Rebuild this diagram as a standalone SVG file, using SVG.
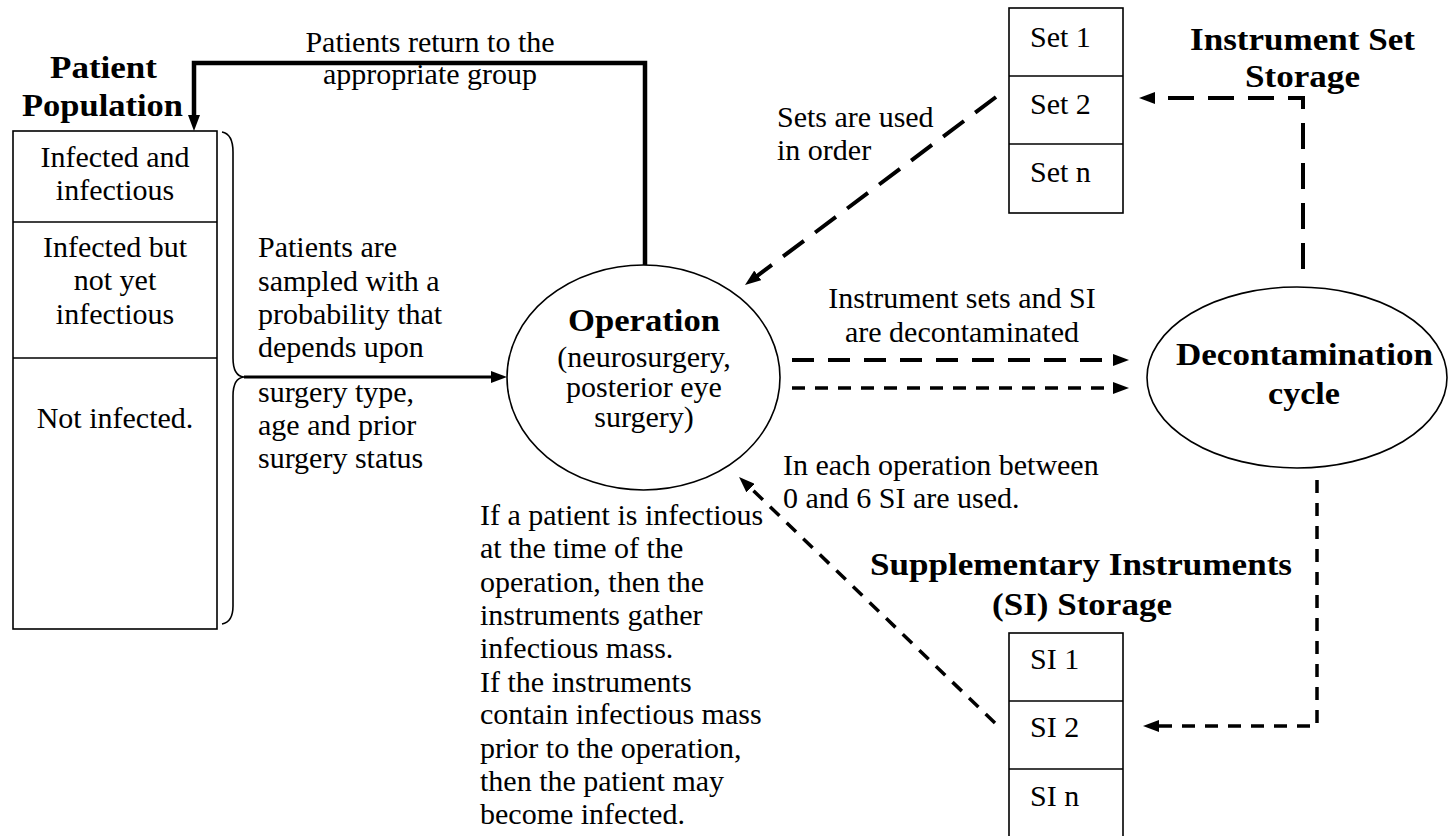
<svg xmlns="http://www.w3.org/2000/svg" width="1448" height="836" viewBox="0 0 1448 836" font-family="Liberation Serif, Tinos, Times New Roman, DejaVu Serif, serif">
  <style>
    .t { font-size: 30px; fill: #000; }
    .b { font-size: 31px; font-weight: bold; fill: #000; }
    .m { text-anchor: middle; }
    .box { fill: #fff; stroke: #000; stroke-width: 1.6; }
    .ell { fill: #fff; stroke: #000; stroke-width: 1.6; }
    .solid { fill: none; stroke: #000; stroke-width: 3; }
    .thick { fill: none; stroke: #000; stroke-width: 4.5; }
    .dlong { fill: none; stroke: #000; stroke-width: 4; stroke-dasharray: 26 14; }
    .dmid { fill: none; stroke: #000; stroke-width: 4; stroke-dasharray: 22 14; }
    .dshort { fill: none; stroke: #000; stroke-width: 3.5; stroke-dasharray: 13 10; }
    .brace { fill: none; stroke: #000; stroke-width: 1.6; }
  </style>
  <defs>
    <marker id="ah" viewBox="0 0 16 12" refX="4" refY="6" markerWidth="16" markerHeight="12" markerUnits="userSpaceOnUse" orient="auto">
      <path d="M0,0 L16,6 L0,12 z" fill="#000"/>
    </marker>
  </defs>

  <!-- Patient Population -->
  <g id="patient-population">
    <text class="b m" x="103.5" y="78" textLength="107" lengthAdjust="spacingAndGlyphs">Patient</text>
    <text class="b m" x="102.5" y="116" textLength="161" lengthAdjust="spacingAndGlyphs">Population</text>
    <rect class="box" x="13" y="131" width="204" height="498"/>
    <line class="box" x1="13" y1="222" x2="217" y2="222"/>
    <line class="box" x1="13" y1="358" x2="217" y2="358"/>
    <text class="t m" x="115" y="167">Infected and</text>
    <text class="t m" x="115" y="200">infectious</text>
    <text class="t m" x="115" y="257">Infected but</text>
    <text class="t m" x="115" y="290">not yet</text>
    <text class="t m" x="115" y="324">infectious</text>
    <text class="t m" x="115" y="428">Not infected.</text>
    <path class="brace" d="M 222 132 Q 233 134 233 152 L 233 358 Q 233 376 244 377 Q 233 378 233 396 L 233 606 Q 233 622 222 624"/>
  </g>

  <!-- Operation -->
  <g id="operation">
    <ellipse class="ell" cx="643.5" cy="377.5" rx="136.5" ry="112.5"/>
    <text class="b m" x="644" y="331" textLength="152" lengthAdjust="spacingAndGlyphs">Operation</text>
    <text class="t m" x="644" y="367">(neurosurgery,</text>
    <text class="t m" x="644" y="397">posterior eye</text>
    <text class="t m" x="644" y="427">surgery)</text>
  </g>

  <!-- Instrument Set Storage -->
  <g id="instrument-set-storage">
    <text class="b m" x="1302.5" y="50" textLength="225" lengthAdjust="spacingAndGlyphs">Instrument Set</text>
    <text class="b m" x="1302.5" y="87" textLength="115" lengthAdjust="spacingAndGlyphs">Storage</text>
    <rect class="box" x="1009" y="8" width="114" height="205"/>
    <line class="box" x1="1009" y1="76" x2="1123" y2="76"/>
    <line class="box" x1="1009" y1="144" x2="1123" y2="144"/>
    <text class="t" x="1030" y="47">Set 1</text>
    <text class="t" x="1030" y="114">Set 2</text>
    <text class="t" x="1030" y="182">Set n</text>
  </g>

  <!-- Decontamination cycle -->
  <g id="decontamination-cycle">
    <ellipse class="ell" cx="1297" cy="377.5" rx="150" ry="90.5"/>
    <text class="b m" x="1304.5" y="365" textLength="257" lengthAdjust="spacingAndGlyphs">Decontamination</text>
    <text class="b m" x="1304" y="404" textLength="72" lengthAdjust="spacingAndGlyphs">cycle</text>
  </g>

  <!-- Supplementary Instruments Storage -->
  <g id="si-storage">
    <text class="b m" x="1081" y="575" textLength="422" lengthAdjust="spacingAndGlyphs">Supplementary Instruments</text>
    <text class="b m" x="1082" y="615" textLength="180" lengthAdjust="spacingAndGlyphs">(SI) Storage</text>
    <rect class="box" x="1009" y="633" width="114" height="210"/>
    <line class="box" x1="1009" y1="701" x2="1123" y2="701"/>
    <line class="box" x1="1009" y1="769" x2="1123" y2="769"/>
    <text class="t" x="1030" y="669">SI 1</text>
    <text class="t" x="1030" y="737">SI 2</text>
    <text class="t" x="1030" y="806">SI n</text>
  </g>

  <!-- Labels -->
  <g id="labels">
    <text class="t m" x="430" y="52">Patients return to the</text>
    <text class="t m" x="430" y="84">appropriate group</text>
    <text class="t" x="258" y="257">Patients are</text>
    <text class="t" x="258" y="291">sampled with a</text>
    <text class="t" x="258" y="324">probability that</text>
    <text class="t" x="258" y="357">depends upon</text>
    <text class="t" x="258" y="402">surgery type,</text>
    <text class="t" x="258" y="435">age and prior</text>
    <text class="t" x="258" y="468">surgery status</text>
    <text class="t" x="777" y="127">Sets are used</text>
    <text class="t" x="777" y="160">in order</text>
    <text class="t m" x="962" y="308">Instrument sets and SI</text>
    <text class="t m" x="962" y="342">are decontaminated</text>
    <text class="t" x="783" y="475">In each operation between</text>
    <text class="t" x="783" y="508">0 and 6 SI are used.</text>
    <text class="t" x="480" y="525">If a patient is infectious</text>
    <text class="t" x="480" y="558">at the time of the</text>
    <text class="t" x="480" y="592">operation, then the</text>
    <text class="t" x="480" y="625">instruments gather</text>
    <text class="t" x="480" y="658">infectious mass.</text>
    <text class="t" x="480" y="692">If the instruments</text>
    <text class="t" x="480" y="724">contain infectious mass</text>
    <text class="t" x="480" y="758">prior to the operation,</text>
    <text class="t" x="480" y="791">then the patient may</text>
    <text class="t" x="480" y="824">become infected.</text>
  </g>

  <!-- Connectors -->
  <g id="connectors">
    <path class="thick" d="M 645 265 L 645 63 L 194 63 L 194 119" marker-end="url(#ah)"/>
    <path class="solid" d="M 244 377 L 495 377" marker-end="url(#ah)"/>
    <path class="dlong" d="M 996 97 L 754.6 277.8" marker-end="url(#ah)"/>
    <path class="dmid" d="M 792 360 L 1117 360" marker-end="url(#ah)"/>
    <path class="dshort" d="M 792 388 L 1117 388" marker-end="url(#ah)"/>
    <path class="dlong" d="M 1303 269 L 1303 98 L 1151 98" marker-end="url(#ah)"/>
    <path class="dshort" d="M 1317 480 L 1317 726 L 1155 726" marker-end="url(#ah)"/>
    <path class="dshort" d="M 995 723 L 747.7 485.3" marker-end="url(#ah)"/>
  </g>
</svg>
